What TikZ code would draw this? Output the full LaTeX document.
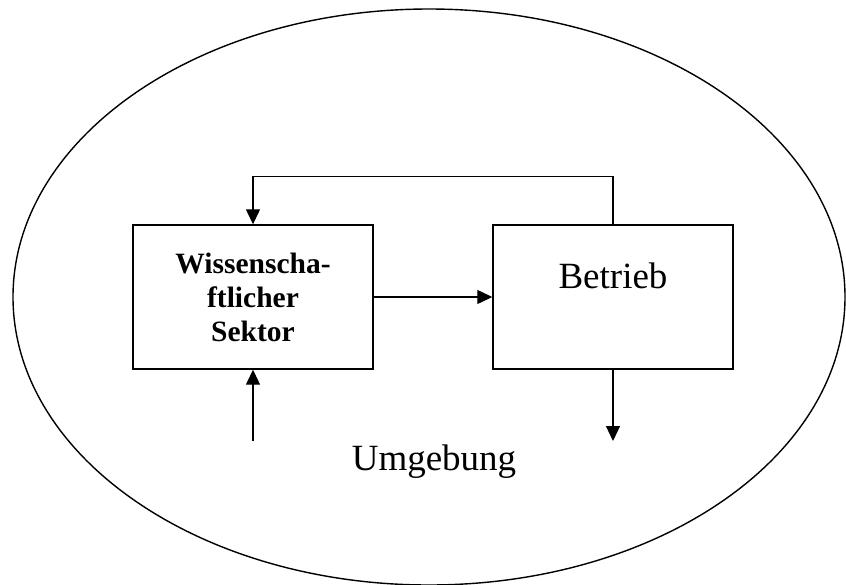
\documentclass[tikz,border=0pt]{standalone}
\usepackage{fontspec}
\setmainfont{Liberation Serif}
\usetikzlibrary{arrows.meta}

\begin{document}
\begin{tikzpicture}[x=1pt,y=-1pt,
    block/.style={draw,line width=1.4pt,rectangle,minimum width=240pt,minimum height=144pt,inner sep=0pt},
    fluss/.style={line width=1.2pt,-{Triangle[length=15pt,width=14pt]}}]
  \useasboundingbox (0,0) rectangle (846,584);
  \draw[line width=1.4pt] (429,297) ellipse [x radius=416pt, y radius=288pt];

  \node [block,align=center,font=\fontsize{29.5}{34}\selectfont\bfseries] (sektor) at (253,297) {Wissenscha-\\ ftlicher\\ Sektor};
  \node [block] (betrieb) at (613,297) {};
  \node [anchor=base,font=\fontsize{37}{40}\selectfont] (betriebtext) at ([yshift=9pt]betrieb.center) {Betrieb};
  \node [anchor=base,font=\fontsize{37}{40}\selectfont] (umgebung) at (434,470) {Umgebung};

  \coordinate (ein) at (253,441);
  \coordinate (aus) at (613,441);

  \draw [fluss] (betrieb.north) -- ++(0,-48) -| (sektor.north);
  \draw [fluss] (sektor.east) -- (betrieb.west);
  \draw [fluss] (ein) -- (sektor.south);
  \draw [fluss] (betrieb.south) -- (aus);

\end{tikzpicture}
\end{document}
